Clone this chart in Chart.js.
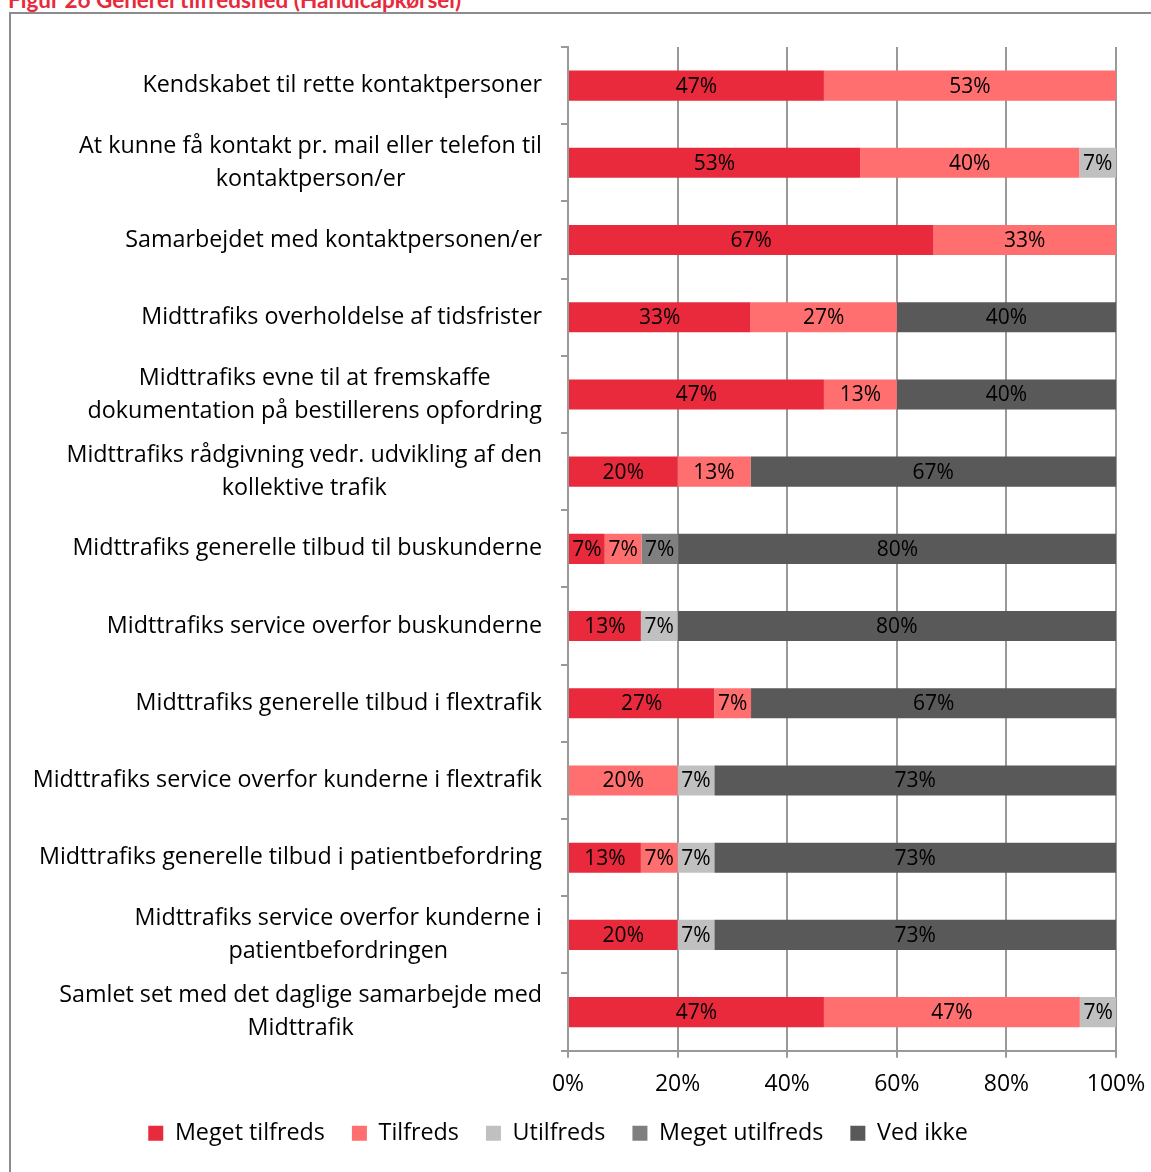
<!DOCTYPE html>
<html>
<head>
<meta charset="utf-8">
<script src="https://cdn.jsdelivr.net/npm/chart.js@4.4.1/dist/chart.umd.min.js"></script>
<style>
    html, body { margin: 0; padding: 0; background: #fff; }
    body { width: 1151px; height: 1172px; overflow: hidden; position: relative; font-family: "Open Sans", sans-serif; }
    #title { position: absolute; left: 8px; top: -14px; font: bold 22.5px Lato, sans-serif; color: #e8293b; white-space: nowrap; }
    #frame { position: absolute; left: 9px; top: 12px; width: 1160px; height: 1170px; border: 2px solid #8c8c8c; box-sizing: border-box; }
    #div_chart { position: absolute; left: 0; top: 0; width: 1151px; height: 1172px; }
</style>
</head>
<body>
<div id="title">Figur 26 Generel tilfredshed (Handicapkørsel)</div>
<div id="frame"></div>
<div id="div_chart"><canvas id="chart"></canvas></div>
<script>
// kategorier (flere linjer = array)
const categories = [
    "Kendskabet til rette kontaktpersoner",
    ["At kunne få kontakt pr. mail eller telefon til", "kontaktperson/er"],
    "Samarbejdet med kontaktpersonen/er",
    "Midttrafiks overholdelse af tidsfrister",
    ["Midttrafiks evne til at fremskaffe", "dokumentation på bestillerens opfordring"],
    ["Midttrafiks rådgivning vedr. udvikling af den", "kollektive trafik"],
    "Midttrafiks generelle tilbud til buskunderne",
    "Midttrafiks service overfor buskunderne",
    "Midttrafiks generelle tilbud i flextrafik",
    "Midttrafiks service overfor kunderne i flextrafik",
    "Midttrafiks generelle tilbud i patientbefordring",
    ["Midttrafiks service overfor kunderne i", "patientbefordringen"],
    ["Samlet set med det daglige samarbejde med", "Midttrafik"],
];

const seriesNames = ["Meget tilfreds", "Tilfreds", "Utilfreds", "Meget utilfreds", "Ved ikke"];

const megetTilfreds   = [46.7, 53.3, 66.7, 33.3, 46.7, 20, 6.7, 13.3, 26.7, 0, 13.3, 20, 46.7];
const tilfreds        = [53.3, 40, 33.3, 26.7, 13.3, 13.3, 6.7, 0, 6.7, 20, 6.7, 0, 46.7];
const utilfreds       = [0, 6.7, 0, 0, 0, 0, 0, 6.7, 0, 6.7, 6.7, 6.7, 6.7];
const megetUtilfreds  = [0, 0, 0, 0, 0, 0, 6.7, 0, 0, 0, 0, 0, 0];
const vedIkke         = [0, 0, 0, 40, 40, 66.7, 80, 80, 66.7, 73.3, 73.3, 73.3, 0];

const xTicks = [0, 20, 40, 60, 80, 100];

const colors = ["#e92a3c", "#ff6f6f", "#c0c0c0", "#7f7f7f", "#595959"];

const FONT = "'Open Sans', sans-serif";

// tal i søjlerne
const barLabels = {
    id: "barLabels",
    afterDatasetsDraw(chart) {
        const ctx = chart.ctx;
        ctx.save();
        ctx.font = "21px " + FONT;
        ctx.fillStyle = "#000";
        ctx.textAlign = "center";
        ctx.textBaseline = "middle";
        chart.data.datasets.forEach((ds, i) => {
            chart.getDatasetMeta(i).data.forEach((bar, j) => {
                const v = ds.data[j];
                if (!v) return;
                ctx.fillText(Math.round(v) + "%", (bar.x + bar.base) / 2, bar.y + 1);
            });
        });
        ctx.restore();
    }
};

// kategori-tekster: højrestillet blok, linjer centreret
const catLabels = {
    id: "catLabels",
    afterDraw(chart) {
        const ctx = chart.ctx;
        const y = chart.scales.y;
        const right = y.right - 26;
        const lineH = 33;
        ctx.save();
        ctx.font = "23.3px " + FONT;
        ctx.fillStyle = "#000";
        ctx.textAlign = "center";
        ctx.textBaseline = "middle";
        categories.forEach((c, i) => {
            const lines = Array.isArray(c) ? c : [c];
            const w = Math.max(...lines.map(l => ctx.measureText(l).width));
            const cy = y.getPixelForValue(i);
            const y0 = cy - (lines.length - 1) * lineH / 2;
            lines.forEach((l, k) => ctx.fillText(l, right - w / 2, y0 + k * lineH));
        });
        ctx.restore();
    }
};

const datasets = [megetTilfreds, tilfreds, utilfreds, megetUtilfreds, vedIkke].map((d, i) => ({
    label: seriesNames[i],
    data: d,
    backgroundColor: colors[i],
    borderWidth: 0,
    barPercentage: 0.39,
    categoryPercentage: 1,
}));

const config = {
    type: "bar",
    data: { labels: categories, datasets },
    options: {
        indexAxis: "y",
        responsive: false,
        maintainAspectRatio: false,
        animation: false,
        layout: { padding: { top: 47, right: 35, left: 0, bottom: 17 } },
        scales: {
            x: {
                stacked: true,
                min: 0,
                max: 100,
                afterBuildTicks: s => { s.ticks = xTicks.map(v => ({ value: v })); },
                afterFit: s => { s.height = 44; s.paddingLeft = 0; s.paddingRight = 0; },
                ticks: {
                    callback: v => v + "%",
                    color: "#000",
                    font: { family: FONT, size: 23 },
                    padding: 13,
                    maxRotation: 0,
                },
                grid: { color: "#999", lineWidth: 2, tickLength: 7 },
                border: { color: "#999", width: 2 },
            },
            y: {
                stacked: true,
                afterFit: s => { s.width = 568; },
                ticks: { display: false },
                grid: { drawOnChartArea: false, color: "#999", lineWidth: 2, tickLength: 7, offset: true },
                border: { color: "#999", width: 2 },
            }
        },
        plugins: {
            tooltip: { enabled: false },
            legend: {
                position: "bottom",
                labels: {
                    color: "#000",
                    font: { family: FONT, size: 23.3 },
                    boxWidth: 15,
                    boxHeight: 15,
                    padding: 27,
                }
            }
        }
    },
    plugins: [barLabels, catLabels],
};

const canvas = document.getElementById("chart");
canvas.width = 1151;
canvas.height = 1172;
canvas.style.width = "1151px";
canvas.style.height = "1172px";
const myChart = new Chart(canvas, config);
</script>
</body>
</html>
